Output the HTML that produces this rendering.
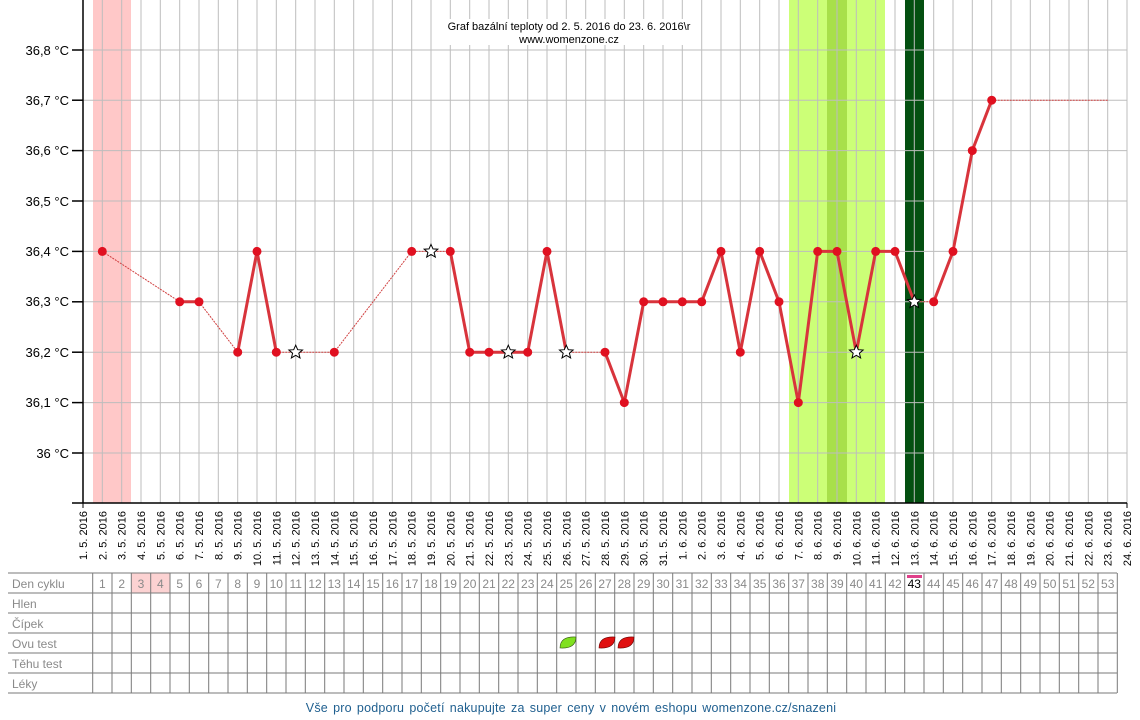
<!DOCTYPE html>
<html><head><meta charset="utf-8"><style>
html,body{margin:0;padding:0;background:#fff;}
svg{display:block;font-family:"Liberation Sans",Arial,sans-serif;}
</style></head><body>
<svg width="1140" height="720" viewBox="0 0 1140 720" xmlns="http://www.w3.org/2000/svg">
<rect x="93" y="0" width="38" height="503" fill="#ffc8c8"/>
<rect x="789" y="0" width="96" height="503" fill="#ccff77"/>
<rect x="827" y="0" width="20" height="503" fill="#a8e04a"/>
<rect x="905" y="0" width="19" height="503" fill="#045011"/>
<g stroke="#bdbdbd" stroke-width="1">
<line x1="102.3" y1="0" x2="102.3" y2="503"/><line x1="121.7" y1="0" x2="121.7" y2="503"/><line x1="141" y1="0" x2="141" y2="503"/><line x1="160.3" y1="0" x2="160.3" y2="503"/><line x1="179.7" y1="0" x2="179.7" y2="503"/><line x1="199" y1="0" x2="199" y2="503"/><line x1="218.3" y1="0" x2="218.3" y2="503"/><line x1="237.7" y1="0" x2="237.7" y2="503"/><line x1="257" y1="0" x2="257" y2="503"/><line x1="276.3" y1="0" x2="276.3" y2="503"/><line x1="295.7" y1="0" x2="295.7" y2="503"/><line x1="315" y1="0" x2="315" y2="503"/><line x1="334.3" y1="0" x2="334.3" y2="503"/><line x1="353.7" y1="0" x2="353.7" y2="503"/><line x1="373" y1="0" x2="373" y2="503"/><line x1="392.3" y1="0" x2="392.3" y2="503"/><line x1="411.7" y1="0" x2="411.7" y2="503"/><line x1="431" y1="0" x2="431" y2="503"/><line x1="450.3" y1="0" x2="450.3" y2="503"/><line x1="469.7" y1="0" x2="469.7" y2="503"/><line x1="489" y1="0" x2="489" y2="503"/><line x1="508.3" y1="0" x2="508.3" y2="503"/><line x1="527.7" y1="0" x2="527.7" y2="503"/><line x1="547" y1="0" x2="547" y2="503"/><line x1="566.3" y1="0" x2="566.3" y2="503"/><line x1="585.7" y1="0" x2="585.7" y2="503"/><line x1="605" y1="0" x2="605" y2="503"/><line x1="624.3" y1="0" x2="624.3" y2="503"/><line x1="643.7" y1="0" x2="643.7" y2="503"/><line x1="663" y1="0" x2="663" y2="503"/><line x1="682.3" y1="0" x2="682.3" y2="503"/><line x1="701.7" y1="0" x2="701.7" y2="503"/><line x1="721" y1="0" x2="721" y2="503"/><line x1="740.3" y1="0" x2="740.3" y2="503"/><line x1="759.7" y1="0" x2="759.7" y2="503"/><line x1="779" y1="0" x2="779" y2="503"/><line x1="798.3" y1="0" x2="798.3" y2="503"/><line x1="817.7" y1="0" x2="817.7" y2="503"/><line x1="837" y1="0" x2="837" y2="503"/><line x1="856.3" y1="0" x2="856.3" y2="503"/><line x1="875.7" y1="0" x2="875.7" y2="503"/><line x1="895" y1="0" x2="895" y2="503"/><line x1="914.3" y1="0" x2="914.3" y2="503"/><line x1="933.7" y1="0" x2="933.7" y2="503"/><line x1="953" y1="0" x2="953" y2="503"/><line x1="972.3" y1="0" x2="972.3" y2="503"/><line x1="991.7" y1="0" x2="991.7" y2="503"/><line x1="1011" y1="0" x2="1011" y2="503"/><line x1="1030.3" y1="0" x2="1030.3" y2="503"/><line x1="1049.7" y1="0" x2="1049.7" y2="503"/><line x1="1069" y1="0" x2="1069" y2="503"/><line x1="1088.3" y1="0" x2="1088.3" y2="503"/><line x1="1107.7" y1="0" x2="1107.7" y2="503"/><line x1="1127" y1="0" x2="1127" y2="503"/>
<line x1="83" y1="50" x2="1127" y2="50"/><line x1="83" y1="100.2" x2="1127" y2="100.2"/><line x1="83" y1="150.6" x2="1127" y2="150.6"/><line x1="83" y1="201" x2="1127" y2="201"/><line x1="83" y1="251.4" x2="1127" y2="251.4"/><line x1="83" y1="301.8" x2="1127" y2="301.8"/><line x1="83" y1="352.2" x2="1127" y2="352.2"/><line x1="83" y1="402.6" x2="1127" y2="402.6"/><line x1="83" y1="453" x2="1127" y2="453"/>
</g>
<rect x="447" y="19" width="243" height="26" fill="#fff"/>
<text x="569" y="30" font-size="11" text-anchor="middle" fill="#000">Graf bazální teploty od 2. 5. 2016 do 23. 6. 2016\r</text>
<text x="569" y="43" font-size="11" text-anchor="middle" fill="#000">www.womenzone.cz</text>
<g stroke="#000" stroke-width="1.5">
<line x1="83" y1="0" x2="83" y2="503"/>
<line x1="72" y1="503" x2="1127" y2="503"/>
<line x1="72" y1="50" x2="83" y2="50"/><line x1="72" y1="100.2" x2="83" y2="100.2"/><line x1="72" y1="150.6" x2="83" y2="150.6"/><line x1="72" y1="201" x2="83" y2="201"/><line x1="72" y1="251.4" x2="83" y2="251.4"/><line x1="72" y1="301.8" x2="83" y2="301.8"/><line x1="72" y1="352.2" x2="83" y2="352.2"/><line x1="72" y1="402.6" x2="83" y2="402.6"/><line x1="72" y1="453" x2="83" y2="453"/>
</g>
<g font-size="13" text-anchor="end" fill="#000">
<text x="69" y="55">36,8 °C</text><text x="69" y="105">36,7 °C</text><text x="69" y="155">36,6 °C</text><text x="69" y="206">36,5 °C</text><text x="69" y="256">36,4 °C</text><text x="69" y="306">36,3 °C</text><text x="69" y="357">36,2 °C</text><text x="69" y="407">36,1 °C</text><text x="69" y="458">36 °C</text>
</g>
<g font-size="11" text-anchor="end" fill="#000">
<text transform="translate(87,511) rotate(-90)">1. 5. 2016</text>
<text transform="translate(106.3,511) rotate(-90)">2. 5. 2016</text>
<text transform="translate(125.7,511) rotate(-90)">3. 5. 2016</text>
<text transform="translate(145,511) rotate(-90)">4. 5. 2016</text>
<text transform="translate(164.3,511) rotate(-90)">5. 5. 2016</text>
<text transform="translate(183.7,511) rotate(-90)">6. 5. 2016</text>
<text transform="translate(203,511) rotate(-90)">7. 5. 2016</text>
<text transform="translate(222.3,511) rotate(-90)">8. 5. 2016</text>
<text transform="translate(241.7,511) rotate(-90)">9. 5. 2016</text>
<text transform="translate(261,511) rotate(-90)">10. 5. 2016</text>
<text transform="translate(280.3,511) rotate(-90)">11. 5. 2016</text>
<text transform="translate(299.7,511) rotate(-90)">12. 5. 2016</text>
<text transform="translate(319,511) rotate(-90)">13. 5. 2016</text>
<text transform="translate(338.3,511) rotate(-90)">14. 5. 2016</text>
<text transform="translate(357.7,511) rotate(-90)">15. 5. 2016</text>
<text transform="translate(377,511) rotate(-90)">16. 5. 2016</text>
<text transform="translate(396.3,511) rotate(-90)">17. 5. 2016</text>
<text transform="translate(415.7,511) rotate(-90)">18. 5. 2016</text>
<text transform="translate(435,511) rotate(-90)">19. 5. 2016</text>
<text transform="translate(454.3,511) rotate(-90)">20. 5. 2016</text>
<text transform="translate(473.7,511) rotate(-90)">21. 5. 2016</text>
<text transform="translate(493,511) rotate(-90)">22. 5. 2016</text>
<text transform="translate(512.3,511) rotate(-90)">23. 5. 2016</text>
<text transform="translate(531.7,511) rotate(-90)">24. 5. 2016</text>
<text transform="translate(551,511) rotate(-90)">25. 5. 2016</text>
<text transform="translate(570.3,511) rotate(-90)">26. 5. 2016</text>
<text transform="translate(589.7,511) rotate(-90)">27. 5. 2016</text>
<text transform="translate(609,511) rotate(-90)">28. 5. 2016</text>
<text transform="translate(628.3,511) rotate(-90)">29. 5. 2016</text>
<text transform="translate(647.7,511) rotate(-90)">30. 5. 2016</text>
<text transform="translate(667,511) rotate(-90)">31. 5. 2016</text>
<text transform="translate(686.3,511) rotate(-90)">1. 6. 2016</text>
<text transform="translate(705.7,511) rotate(-90)">2. 6. 2016</text>
<text transform="translate(725,511) rotate(-90)">3. 6. 2016</text>
<text transform="translate(744.3,511) rotate(-90)">4. 6. 2016</text>
<text transform="translate(763.7,511) rotate(-90)">5. 6. 2016</text>
<text transform="translate(783,511) rotate(-90)">6. 6. 2016</text>
<text transform="translate(802.3,511) rotate(-90)">7. 6. 2016</text>
<text transform="translate(821.7,511) rotate(-90)">8. 6. 2016</text>
<text transform="translate(841,511) rotate(-90)">9. 6. 2016</text>
<text transform="translate(860.3,511) rotate(-90)">10. 6. 2016</text>
<text transform="translate(879.7,511) rotate(-90)">11. 6. 2016</text>
<text transform="translate(899,511) rotate(-90)">12. 6. 2016</text>
<text transform="translate(918.3,511) rotate(-90)">13. 6. 2016</text>
<text transform="translate(937.7,511) rotate(-90)">14. 6. 2016</text>
<text transform="translate(957,511) rotate(-90)">15. 6. 2016</text>
<text transform="translate(976.3,511) rotate(-90)">16. 6. 2016</text>
<text transform="translate(995.7,511) rotate(-90)">17. 6. 2016</text>
<text transform="translate(1015,511) rotate(-90)">18. 6. 2016</text>
<text transform="translate(1034.3,511) rotate(-90)">19. 6. 2016</text>
<text transform="translate(1053.7,511) rotate(-90)">20. 6. 2016</text>
<text transform="translate(1073,511) rotate(-90)">21. 6. 2016</text>
<text transform="translate(1092.3,511) rotate(-90)">22. 6. 2016</text>
<text transform="translate(1111.7,511) rotate(-90)">23. 6. 2016</text>
<text transform="translate(1131,511) rotate(-90)">24. 6. 2016</text>
</g>
<g stroke="#d04040" stroke-width="1" stroke-dasharray="2,1" fill="none">
<polyline points="102.3,251.4 179.7,301.8"/>
<polyline points="199,301.8 237.7,352.2"/>
<polyline points="276.3,352.2 295.7,352.2 334.3,352.2 411.7,251.4 431,251.4 450.3,251.4"/>
<polyline points="566.3,352.2 605,352.2"/>
<polyline points="914.3,301.8 933.7,301.8"/>
<polyline points="991.7,100.2 1107.7,100.2"/>
</g>
<g stroke="#d8343c" stroke-width="3" fill="none" stroke-linejoin="round">
<polyline points="179.7,301.8 199,301.8"/>
<polyline points="237.7,352.2 257,251.4 276.3,352.2"/>
<polyline points="450.3,251.4 469.7,352.2 489,352.2 508.3,352.2 527.7,352.2 547,251.4 566.3,352.2"/>
<polyline points="605,352.2 624.3,402.6 643.7,301.8 663,301.8 682.3,301.8 701.7,301.8 721,251.4 740.3,352.2 759.7,251.4 779,301.8 798.3,402.6 817.7,251.4 837,251.4 856.3,352.2 875.7,251.4 895,251.4 914.3,301.8"/>
<polyline points="933.7,301.8 953,251.4 972.3,150.6 991.7,100.2"/>
</g>
<g fill="#e01020">
<circle cx="102.3" cy="251.4" r="4.5"/><circle cx="179.7" cy="301.8" r="4.5"/><circle cx="199" cy="301.8" r="4.5"/><circle cx="237.7" cy="352.2" r="4.5"/><circle cx="257" cy="251.4" r="4.5"/><circle cx="276.3" cy="352.2" r="4.5"/><circle cx="334.3" cy="352.2" r="4.5"/><circle cx="411.7" cy="251.4" r="4.5"/><circle cx="450.3" cy="251.4" r="4.5"/><circle cx="469.7" cy="352.2" r="4.5"/><circle cx="489" cy="352.2" r="4.5"/><circle cx="527.7" cy="352.2" r="4.5"/><circle cx="547" cy="251.4" r="4.5"/><circle cx="605" cy="352.2" r="4.5"/><circle cx="624.3" cy="402.6" r="4.5"/><circle cx="643.7" cy="301.8" r="4.5"/><circle cx="663" cy="301.8" r="4.5"/><circle cx="682.3" cy="301.8" r="4.5"/><circle cx="701.7" cy="301.8" r="4.5"/><circle cx="721" cy="251.4" r="4.5"/><circle cx="740.3" cy="352.2" r="4.5"/><circle cx="759.7" cy="251.4" r="4.5"/><circle cx="779" cy="301.8" r="4.5"/><circle cx="798.3" cy="402.6" r="4.5"/><circle cx="817.7" cy="251.4" r="4.5"/><circle cx="837" cy="251.4" r="4.5"/><circle cx="875.7" cy="251.4" r="4.5"/><circle cx="895" cy="251.4" r="4.5"/><circle cx="933.7" cy="301.8" r="4.5"/><circle cx="953" cy="251.4" r="4.5"/><circle cx="972.3" cy="150.6" r="4.5"/><circle cx="991.7" cy="100.2" r="4.5"/>
</g>
<defs><polygon id="st" points="0,-7 2,-2.5 6.8,-2.2 3.1,1 4.3,5.7 0,3.1 -4.3,5.7 -3.1,1 -6.8,-2.2 -2,-2.5" fill="#fff" stroke="#000" stroke-width="1"/></defs>
<use href="#st" x="295.7" y="352.2"/><use href="#st" x="431" y="251.4"/><use href="#st" x="508.3" y="352.2"/><use href="#st" x="566.3" y="352.2"/><use href="#st" x="856.3" y="352.2"/><use href="#st" x="914.3" y="301.8"/>
<g stroke="#000" stroke-width="1">
<line x1="83" y1="503" x2="83" y2="508"/><line x1="1127" y1="503" x2="1127" y2="508"/>
</g>
<rect x="131.3" y="573" width="38.7" height="20" fill="#fcd2d2"/>
<rect x="907" y="575" width="15" height="3" fill="#e0408a"/>
<g stroke="#7a7a7a" stroke-width="1">
<line x1="8" y1="573" x2="1117" y2="573"/><line x1="8" y1="593" x2="1117" y2="593"/><line x1="8" y1="613" x2="1117" y2="613"/><line x1="8" y1="633" x2="1117" y2="633"/><line x1="8" y1="653" x2="1117" y2="653"/><line x1="8" y1="673" x2="1117" y2="673"/><line x1="8" y1="693" x2="1117" y2="693"/>
<line x1="92.7" y1="573" x2="92.7" y2="693"/><line x1="112" y1="573" x2="112" y2="693"/><line x1="131.3" y1="573" x2="131.3" y2="693"/><line x1="150.7" y1="573" x2="150.7" y2="693"/><line x1="170" y1="573" x2="170" y2="693"/><line x1="189.3" y1="573" x2="189.3" y2="693"/><line x1="208.7" y1="573" x2="208.7" y2="693"/><line x1="228" y1="573" x2="228" y2="693"/><line x1="247.3" y1="573" x2="247.3" y2="693"/><line x1="266.7" y1="573" x2="266.7" y2="693"/><line x1="286" y1="573" x2="286" y2="693"/><line x1="305.3" y1="573" x2="305.3" y2="693"/><line x1="324.7" y1="573" x2="324.7" y2="693"/><line x1="344" y1="573" x2="344" y2="693"/><line x1="363.3" y1="573" x2="363.3" y2="693"/><line x1="382.7" y1="573" x2="382.7" y2="693"/><line x1="402" y1="573" x2="402" y2="693"/><line x1="421.3" y1="573" x2="421.3" y2="693"/><line x1="440.7" y1="573" x2="440.7" y2="693"/><line x1="460" y1="573" x2="460" y2="693"/><line x1="479.3" y1="573" x2="479.3" y2="693"/><line x1="498.7" y1="573" x2="498.7" y2="693"/><line x1="518" y1="573" x2="518" y2="693"/><line x1="537.3" y1="573" x2="537.3" y2="693"/><line x1="556.7" y1="573" x2="556.7" y2="693"/><line x1="576" y1="573" x2="576" y2="693"/><line x1="595.3" y1="573" x2="595.3" y2="693"/><line x1="614.7" y1="573" x2="614.7" y2="693"/><line x1="634" y1="573" x2="634" y2="693"/><line x1="653.3" y1="573" x2="653.3" y2="693"/><line x1="672.7" y1="573" x2="672.7" y2="693"/><line x1="692" y1="573" x2="692" y2="693"/><line x1="711.3" y1="573" x2="711.3" y2="693"/><line x1="730.7" y1="573" x2="730.7" y2="693"/><line x1="750" y1="573" x2="750" y2="693"/><line x1="769.3" y1="573" x2="769.3" y2="693"/><line x1="788.7" y1="573" x2="788.7" y2="693"/><line x1="808" y1="573" x2="808" y2="693"/><line x1="827.3" y1="573" x2="827.3" y2="693"/><line x1="846.7" y1="573" x2="846.7" y2="693"/><line x1="866" y1="573" x2="866" y2="693"/><line x1="885.3" y1="573" x2="885.3" y2="693"/><line x1="904.7" y1="573" x2="904.7" y2="693"/><line x1="924" y1="573" x2="924" y2="693"/><line x1="943.3" y1="573" x2="943.3" y2="693"/><line x1="962.7" y1="573" x2="962.7" y2="693"/><line x1="982" y1="573" x2="982" y2="693"/><line x1="1001.3" y1="573" x2="1001.3" y2="693"/><line x1="1020.7" y1="573" x2="1020.7" y2="693"/><line x1="1040" y1="573" x2="1040" y2="693"/><line x1="1059.3" y1="573" x2="1059.3" y2="693"/><line x1="1078.7" y1="573" x2="1078.7" y2="693"/><line x1="1098" y1="573" x2="1098" y2="693"/><line x1="1117.3" y1="573" x2="1117.3" y2="693"/>
</g>
<g font-size="12" fill="#8a8a8a">
<text x="12" y="588">Den cyklu</text><text x="12" y="608">Hlen</text><text x="12" y="628">Čípek</text><text x="12" y="648">Ovu test</text><text x="12" y="668">Těhu test</text><text x="12" y="688">Léky</text>
</g>
<g font-size="12" fill="#8a8a8a" text-anchor="middle">
<text x="102.3" y="588">1</text><text x="121.7" y="588">2</text><text x="141" y="588">3</text><text x="160.3" y="588">4</text><text x="179.7" y="588">5</text><text x="199" y="588">6</text><text x="218.3" y="588">7</text><text x="237.7" y="588">8</text><text x="257" y="588">9</text><text x="276.3" y="588">10</text><text x="295.7" y="588">11</text><text x="315" y="588">12</text><text x="334.3" y="588">13</text><text x="353.7" y="588">14</text><text x="373" y="588">15</text><text x="392.3" y="588">16</text><text x="411.7" y="588">17</text><text x="431" y="588">18</text><text x="450.3" y="588">19</text><text x="469.7" y="588">20</text><text x="489" y="588">21</text><text x="508.3" y="588">22</text><text x="527.7" y="588">23</text><text x="547" y="588">24</text><text x="566.3" y="588">25</text><text x="585.7" y="588">26</text><text x="605" y="588">27</text><text x="624.3" y="588">28</text><text x="643.7" y="588">29</text><text x="663" y="588">30</text><text x="682.3" y="588">31</text><text x="701.7" y="588">32</text><text x="721" y="588">33</text><text x="740.3" y="588">34</text><text x="759.7" y="588">35</text><text x="779" y="588">36</text><text x="798.3" y="588">37</text><text x="817.7" y="588">38</text><text x="837" y="588">39</text><text x="856.3" y="588">40</text><text x="875.7" y="588">41</text><text x="895" y="588">42</text><text x="914.3" y="588" fill="#000">43</text><text x="933.7" y="588">44</text><text x="953" y="588">45</text><text x="972.3" y="588">46</text><text x="991.7" y="588">47</text><text x="1011" y="588">48</text><text x="1030.3" y="588">49</text><text x="1049.7" y="588">50</text><text x="1069" y="588">51</text><text x="1088.3" y="588">52</text><text x="1107.7" y="588">53</text>
</g>
<path d="M560,648 Q560,636 576,637 Q576,649 560,648 Z" fill="#80e020" stroke="#305010" stroke-width="0.6"/>
<path d="M599,648 Q599,636 615,637 Q615,649 599,648 Z" fill="#e01010" stroke="#600" stroke-width="0.6"/>
<path d="M618,648 Q618,636 634,637 Q634,649 618,648 Z" fill="#e01010" stroke="#600" stroke-width="0.6"/>
<text x="571" y="712" font-size="12.5" text-anchor="middle" fill="#1f5f8f" word-spacing="1.5" letter-spacing="0.2">Vše pro podporu početí nakupujte za super ceny v novém eshopu womenzone.cz/snazeni</text>
</svg>
</body></html>
